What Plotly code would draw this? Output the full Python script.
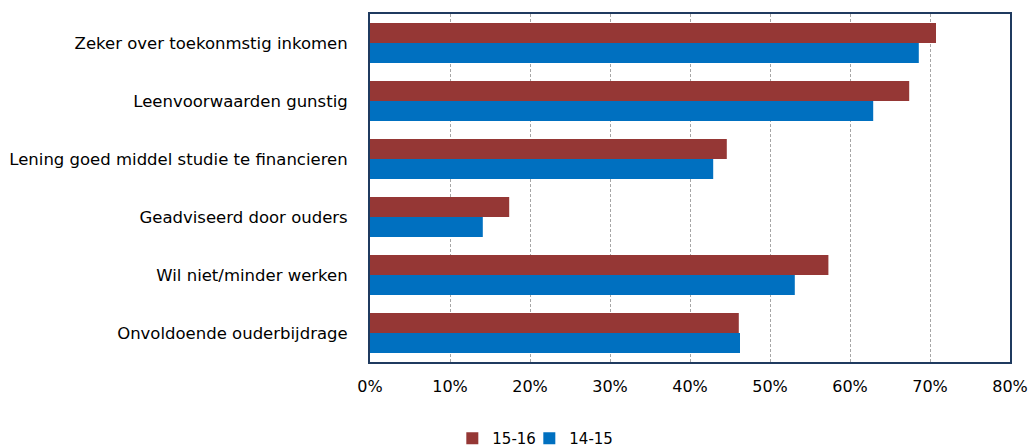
import plotly.graph_objects as go

categories = [
    "Zeker over toekonmstig inkomen",
    "Leenvoorwaarden gunstig",
    "Lening goed middel studie te financieren",
    "Geadviseerd door ouders",
    "Wil niet/minder werken",
    "Onvoldoende ouderbijdrage",
]
series_names = ["15-16", "14-15"]
values_1516 = [70.75, 67.4, 44.6, 17.4, 57.3, 46.1]
values_1415 = [68.6, 62.9, 42.9, 14.1, 53.1, 46.25]
tick_vals = [0, 10, 20, 30, 40, 50, 60, 70, 80]
tick_text = ["0%", "10%", "20%", "30%", "40%", "50%", "60%", "70%", "80%"]

colors = ["#953735", "#0070C0"]

fig = go.Figure()
for name, vals, col in zip(series_names, [values_1516, values_1415], colors):
    fig.add_trace(go.Bar(
        y=categories, x=vals, name=name, orientation="h",
        marker=dict(color=col, line=dict(width=0)),
    ))
# spacer entry so the fixed-width legend does not clip the last label
fig.add_trace(go.Scatter(x=[None], y=[None], name="\u2003", mode="markers",
                         marker=dict(color="rgba(0,0,0,0)"), hoverinfo="skip"))

frame = "#1F3A5F"
fig.update_layout(
    width=1028, height=448,
    margin=dict(l=370, r=18, t=14, b=86),
    barmode="group", bargap=0.31, bargroupgap=0,
    plot_bgcolor="white", paper_bgcolor="white",
    font=dict(family="DejaVu Sans, Verdana, sans-serif", size=16, color="#000000"),
    legend=dict(orientation="h", xref="container", x=0.44, xanchor="left",
                yref="container", y=0.021, yanchor="middle",
                font=dict(size=15), traceorder="normal", itemwidth=30,
                entrywidth=32, entrywidthmode="pixels"),
    xaxis=dict(range=[0, 80], tickvals=tick_vals, ticktext=tick_text,
               showgrid=True, gridcolor="#A6A6A6", griddash="3px,2px", gridwidth=1,
               showline=True, linecolor=frame, linewidth=2, mirror=True,
               ticks="", zeroline=False, ticklabelstandoff=9, automargin=False,
               tickfont=dict(size=16)),
    yaxis=dict(autorange="reversed", showline=True, linecolor=frame, linewidth=2,
               mirror=True, ticks="", ticklabelstandoff=17, automargin=False,
               tickfont=dict(size=16.5)),
)
fig.write_html("out.html", config={"displayModeBar": False},
               post_script="document.body.style.margin='0';")
